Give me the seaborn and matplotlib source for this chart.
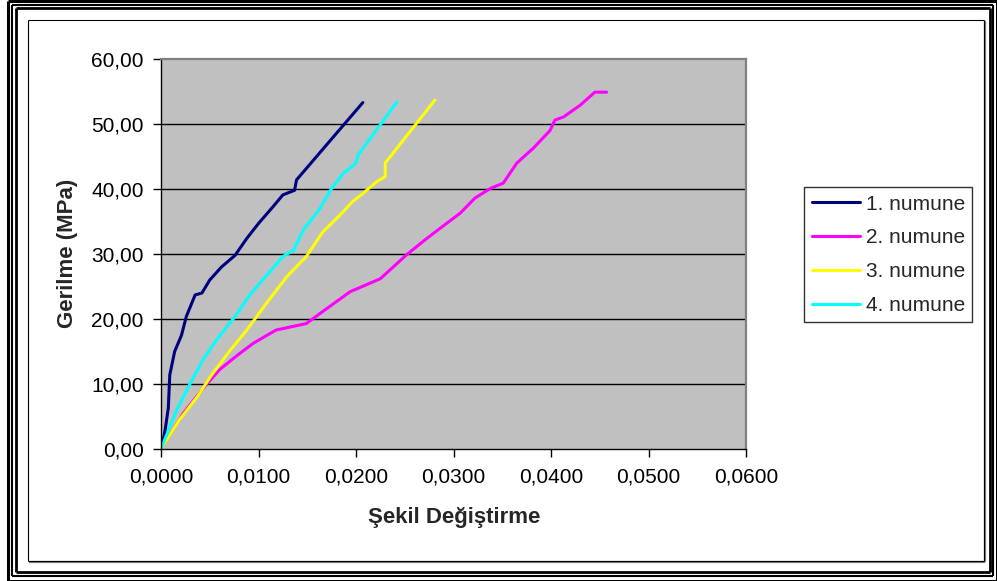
import matplotlib
matplotlib.use("Agg")
import matplotlib.pyplot as plt
from matplotlib.ticker import FuncFormatter, MultipleLocator
from matplotlib.lines import Line2D
import seaborn as sns
import pandas as pd

# Strain / stress readings for the four specimens
strain_1 = [0.0, 0.00007, 0.0004, 0.00075, 0.0009, 0.0014, 0.0021, 0.0026, 0.0035,
            0.0042, 0.0050, 0.0062, 0.0076, 0.0088, 0.0100, 0.0115, 0.0125, 0.0137,
            0.0139, 0.0207]
stress_1 = [0.0, 0.35, 2.7, 6.3, 11.4, 15.0, 17.5, 20.4, 23.7,
            24.0, 26.0, 28.0, 29.8, 32.4, 34.7, 37.3, 39.1, 39.8,
            41.4, 53.3]

strain_2 = [0.0, 0.0023, 0.0043, 0.0060, 0.0079, 0.0095, 0.0118, 0.0149, 0.0170,
            0.0194, 0.0225, 0.0252, 0.0271, 0.0284, 0.0307, 0.0322, 0.0338, 0.0351,
            0.0365, 0.0382, 0.0399, 0.0404, 0.0413, 0.0430, 0.0445, 0.0457]
stress_2 = [0.0, 5.5, 9.3, 12.2, 14.5, 16.3, 18.3, 19.3, 21.6,
            24.2, 26.2, 29.9, 32.2, 33.7, 36.3, 38.6, 40.1, 40.9,
            44.0, 46.3, 49.0, 50.6, 51.1, 52.9, 54.9, 54.9]

strain_3 = [0.0, 0.0019, 0.0037, 0.0052, 0.0071, 0.0088, 0.0108, 0.0129, 0.0149,
            0.0166, 0.0185, 0.0196, 0.0207, 0.0221, 0.0230, 0.0230, 0.0281]
stress_3 = [0.0, 4.5, 8.0, 11.4, 15.2, 18.3, 22.4, 26.5, 29.6,
            33.4, 36.2, 38.0, 39.3, 41.1, 41.9, 44.0, 53.7]

strain_4 = [0.0, 0.0016, 0.0030, 0.0043, 0.0057, 0.0076, 0.0091, 0.0110, 0.0125,
            0.0136, 0.0146, 0.0163, 0.0175, 0.0187, 0.0200, 0.0202, 0.0242]
stress_4 = [0.0, 6.0, 10.1, 13.7, 16.8, 20.4, 23.7, 27.0, 29.6,
            30.6, 33.7, 37.0, 40.1, 42.4, 44.0, 45.2, 53.4]

series_names = ["1. numune", "2. numune", "3. numune", "4. numune"]
series_colors = ["#000080", "#FF00FF", "#FFFF00", "#00FFFF"]

frames = []
for name, xs, ys in zip(series_names,
                        [strain_1, strain_2, strain_3, strain_4],
                        [stress_1, stress_2, stress_3, stress_4]):
    frames.append(pd.DataFrame({"strain": xs, "stress": ys, "numune": name}))
data = pd.concat(frames, ignore_index=True)

sns.set_theme(style="white")
plt.rcParams["font.family"] = ["Liberation Sans", "DejaVu Sans"]

W, H = 997, 581
fig = plt.figure(figsize=(W / 100, H / 100), dpi=100)
fig.patch.set_facecolor("white")

# plot area in pixel coordinates
L, R, T, B = 161, 746, 59, 449
ax = fig.add_axes([L / W, 1 - B / H, (R - L) / W, (B - T) / H])
ax.set_facecolor("#C0C0C0")

sns.lineplot(data=data, x="strain", y="stress", hue="numune",
             hue_order=series_names, palette=series_colors,
             estimator=None, sort=False, linewidth=2.2, legend=False, ax=ax)

ax.set_xlim(0, 0.06)
ax.set_ylim(0, 60)
ax.xaxis.set_major_locator(MultipleLocator(0.01))
ax.yaxis.set_major_locator(MultipleLocator(10))
ax.xaxis.set_major_formatter(FuncFormatter(lambda v, p: f"{v:.4f}".replace(".", ",")))
ax.yaxis.set_major_formatter(FuncFormatter(lambda v, p: f"{v:.2f}".replace(".", ",")))
ax.grid(False)
for yv in range(10, 60, 10):
    ax.axhline(yv, color="black", linewidth=1.0, zorder=0.5)

ax.tick_params(axis="both", which="major", direction="out", length=5.5, width=1,
               color="black", labelsize=15, labelcolor="black",
               bottom=True, left=True)
ax.tick_params(axis="y", pad=7)
ax.tick_params(axis="x", pad=8)
for s in ["left", "bottom"]:
    ax.spines[s].set_color("black")
    ax.spines[s].set_linewidth(1.0)
for s in ["top", "right"]:
    ax.spines[s].set_color("#808080")
    ax.spines[s].set_linewidth(1.6)
ax.set_xlabel("")
ax.set_ylabel("")

fig.text(454 / W, 1 - 517 / H, "Şekil Değiştirme", ha="center", va="center",
         fontsize=16, fontweight="bold")
fig.text(68 / W, 1 - 253 / H, "Gerilme (MPa)", ha="center", va="center",
         rotation=90, fontsize=16, fontweight="bold")

handles = [Line2D([0], [0], color=c, linewidth=2.2) for c in series_colors]
leg = fig.legend(handles, series_names, loc="upper left",
                 bbox_to_anchor=(804 / W, 1 - 187 / H), fontsize=15,
                 frameon=True, fancybox=False, borderpad=0.36,
                 handlelength=2.35, handletextpad=0.25, labelspacing=0.71,
                 borderaxespad=0)
leg.get_frame().set_edgecolor("black")
leg.get_frame().set_linewidth(1.0)
leg.get_frame().set_facecolor("white")

# chart frame with shadow, and the surrounding triple border
def hline(x0, x1, y, lw, color="black"):
    fig.add_artist(Line2D([x0 / W, x1 / W], [1 - y / H, 1 - y / H],
                          color=color, linewidth=lw, transform=fig.transFigure,
                          solid_capstyle="butt"))

def vline(x, y0, y1, lw, color="black"):
    fig.add_artist(Line2D([x / W, x / W], [1 - y0 / H, 1 - y1 / H],
                          color=color, linewidth=lw, transform=fig.transFigure,
                          solid_capstyle="butt"))

def rect(x0, y0, x1, y1, lw, color="black"):
    hline(x0, x1, y0, lw, color)
    hline(x0, x1, y1, lw, color)
    vline(x0, y0, y1, lw, color)
    vline(x1, y0, y1, lw, color)

# shadow of the inner chart box
hline(29, 985, 561.5, 1.6, "#808080")
vline(984.5, 21, 562, 1.6, "#808080")
rect(27.5, 19.5, 983.5, 560.5, 0.8)

rect(16, 8, 989.5, 571.5, 2.0)
rect(12, 4.5, 993, 576, 1.5)
rect(8, 1, 997, 580.5, 2.2)

fig.savefig("out.png", dpi=100, facecolor="white")
